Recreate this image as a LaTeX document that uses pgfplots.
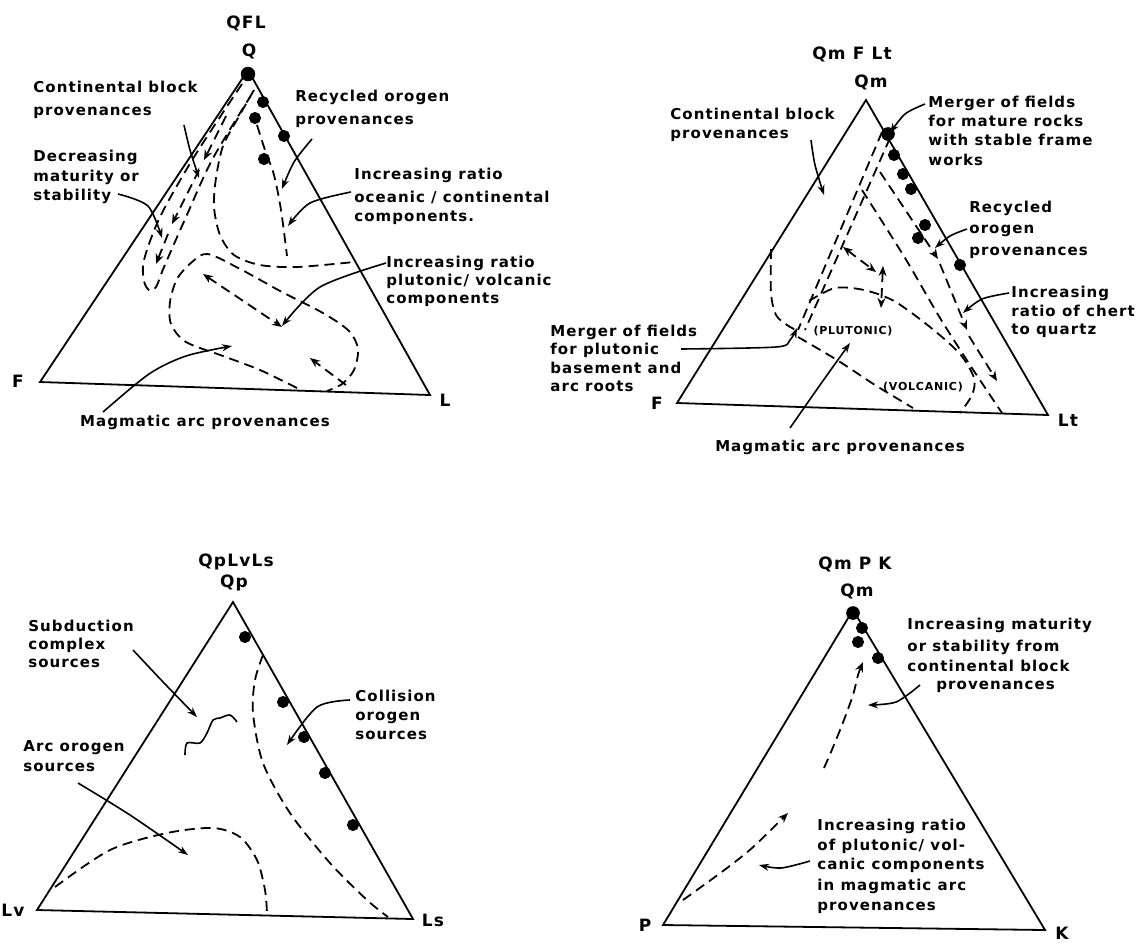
\documentclass[border=0pt]{standalone}
\usepackage{fontspec}
\setmainfont{DejaVu Sans}[LetterSpace=7]
\usepackage{pgfplots}
\pgfplotsset{compat=1.18}
\usetikzlibrary{arrows.meta}

% one text line, left aligned at (x,y) in image pixels
\newcommand{\T}[3]{\node[anchor=west] at (axis cs:#1,#2) {#3};}
% centred text
\newcommand{\C}[3]{\node at (axis cs:#1,#2) {#3};}

\begin{document}
\begin{tikzpicture}[
  every node/.style={font=\bfseries\fontsize{7.5}{10}\selectfont, inner sep=0pt, text height=5.6pt, text depth=1.6pt},
  ttl/.style={font=\bfseries\fontsize{8.5}{10}\selectfont},
]
\begin{axis}[
  x=0.5pt, y=0.5pt, y dir=reverse,
  xmin=0, xmax=1145, ymin=0, ymax=944,
  hide axis, clip=false, scale only axis,
  tri/.style={black, line width=0.9pt, no marks},
  dsh/.style={black, line width=0.9pt, dash pattern=on 5pt off 3pt, no marks, smooth},
  ldr/.style={black, line width=0.8pt, no marks, smooth, -{Stealth[length=5pt,width=3.5pt]}},
  dot/.style={black, only marks, mark=*, mark size=2.8pt},
  ah/.style={-{Stealth[length=5pt,width=4pt]}},
  dah/.style={{Stealth[length=5pt,width=4pt]}-{Stealth[length=5pt,width=4pt]}},
]
\addplot[draw=none, forget plot] coordinates {(0,0) (1145,944)};

% ---------------- QFL ----------------
\addplot[tri] coordinates {(248,70) (40,382) (430,395)} -- cycle;
\addplot[dot] coordinates {(263,102) (255,118) (284,136) (264,159)};
\addplot[dot, mark size=3.4pt] coordinates {(248,74)};
\addplot[dsh] coordinates {(242,84) (194,157) (160,217) (144,260) (144,281) (149,290) (156,287) (164,267) (186,217) (212,160) (250,97)};
\addplot[dsh, ah] coordinates {(226,116) (204,160)};
\addplot[dsh, ah] coordinates {(199,170) (172,224)};
\addplot[dsh, ah] coordinates {(168,234) (156,264)};
\addplot[dsh] coordinates {(254,90) (238,118) (223,146) (216,178) (214,207) (220,235) (234,255) (260,265) (297,267) (354,262)};
\addplot[dsh] coordinates {(257,125) (265,150) (274,175) (281,210) (287,256)};
\addplot[dsh] coordinates {(297,388) (260,370) (223,356) (186,342) (171,324) (170,302) (177,279) (192,262) (208,254) (242,270) (282,292) (323,313) (349,331) (358,349) (354,370) (342,384) (327,391)};
\addplot[dsh, dah] coordinates {(203,274) (282,327)};
\addplot[dsh, ah] coordinates {(346,385) (310,358)};
\addplot[ldr] coordinates {(184,125) (190,150) (199,178)};
\addplot[ldr] coordinates {(312,139) (294,162) (282,189)};
\addplot[ldr] coordinates {(118,194) (148,206) (162,238)};
\addplot[ldr] coordinates {(351,192) (310,203) (288,226)};
\addplot[ldr] coordinates {(386,263) (320,287) (282,326)};
\addplot[ldr] coordinates {(103,412) (149,374) (186,356) (232,346)};
\node[ttl] at (axis cs:246,24) {QFL};
\node[ttl] at (axis cs:249,52) {Q};
\node[ttl] at (axis cs:18,383) {F};
\node[ttl] at (axis cs:445,402) {L};
\T{33}{88}{Continental block}
\T{33}{111}{provenances}
\T{295}{97}{Recycled orogen}
\T{295}{120}{provenances}
\T{33}{157}{Decreasing}
\T{33}{177}{maturity or}
\T{33}{196}{stability}
\T{354}{175}{Increasing ratio}
\T{354}{198}{oceanic / continental}
\T{354}{217}{components.}
\T{386}{263}{Increasing ratio}
\T{386}{281}{plutonic/ volcanic}
\T{386}{299}{components}
\C{205}{422}{Magmatic arc provenances}

% ---------------- Qm F Lt ----------------
\addplot[tri] coordinates {(866,100) (677,403) (1048,415)} -- cycle;
\addplot[dot] coordinates {(894,155) (903,174) (911,189) (925,225) (918,238) (960,265)};
\addplot[dot, mark size=3.2pt] coordinates {(888,134)};
\addplot[dsh] coordinates {(882,132) (798,330)};
\addplot[dsh] coordinates {(890,138) (805,330)};
\addplot[dsh] coordinates {(771,249) (771,293) (776,315) (787,325) (796,330)};
\addplot[dsh] coordinates {(798,337) (837,360) (875,385) (913,408)};
\addplot[dsh] coordinates {(809,301) (835,288) (864,290) (894,301) (930,327) (960,354) (974,378) (972,395) (960,413)};
\addplot[dsh] coordinates {(862,190) (905,258) (940,318) (970,365) (1002,413)};
\addplot[dsh, ah] coordinates {(880,172) (938,259)};
\addplot[dsh, ah] coordinates {(940,264) (967,330)};
\addplot[dsh, ah] coordinates {(969,336) (997,381)};
\addplot[dsh, dah] coordinates {(843,247) (876,272)};
\addplot[dsh, dah] coordinates {(883,266) (881,308)};
\addplot[ldr] coordinates {(811,140) (815,165) (824,195)};
\addplot[ldr] coordinates {(925,104) (905,114) (890,133)};
\addplot[ldr] coordinates {(967,229) (950,236) (935,248)};
\addplot[ldr] coordinates {(1009,293) (982,299) (963,313)};
\addplot[ldr] coordinates {(681,349) (776,347) (790,340) (797,328)};
\addplot[ldr] coordinates {(790,428) (820,385) (850,343)};
\node[ttl] at (axis cs:852,55) {Qm F Lt};
\node[ttl] at (axis cs:871,83) {Qm};
\node[ttl] at (axis cs:657,405) {F};
\node[ttl] at (axis cs:1068,422) {Lt};
\T{670}{115}{Continental block}
\T{670}{134}{provenances}
\T{928}{103}{Merger of fields}
\T{928}{122}{for mature rocks}
\T{928}{141}{with stable frame}
\T{928}{161}{works}
\T{969}{208}{Recycled}
\T{969}{229}{orogen}
\T{969}{251}{provenances}
\T{1011}{293}{Increasing}
\T{1011}{312}{ratio of chert}
\T{1011}{330}{to quartz}
\T{550}{332}{Merger of fields}
\T{550}{350}{for plutonic}
\T{550}{369}{basement and}
\T{550}{387}{arc roots}
\node[font=\bfseries\fontsize{5.5}{7}\selectfont] at (axis cs:853,330) {(PLUTONIC)};
\node[font=\bfseries\fontsize{5.5}{7}\selectfont] at (axis cs:923,386) {(VOLCANIC)};
\C{840}{447}{Magmatic arc provenances}

% ---------------- Qp Lv Ls ----------------
\addplot[tri] coordinates {(233,602) (37,910) (413,919)} -- cycle;
\addplot[dot] coordinates {(245,637) (283,702) (304,737) (325,773) (353,825)};
\addplot[dsh] coordinates {(263,655) (255,680) (253,713) (263,763) (290,813) (330,863) (367,900) (388,917)};
\addplot[dsh] coordinates {(55,887) (110,850) (167,833) (213,828) (240,837) (257,860) (265,890) (267,913)};
\addplot[black, line width=0.8pt, smooth, no marks] coordinates {(185,755) (187,743) (200,743) (207,733) (213,720) (220,718) (230,715) (237,722)};
\addplot[ldr] coordinates {(133,650) (165,684) (197,717)};
\addplot[ldr] coordinates {(350,700) (317,707) (287,745)};
\addplot[ldr] coordinates {(78,783) (130,815) (188,855)};
\node[ttl] at (axis cs:236,562) {QpLvLs};
\node[ttl] at (axis cs:234,583) {Qp};
\node[ttl, anchor=west] at (axis cs:1,912) {Lv};
\node[ttl] at (axis cs:433,922) {Ls};
\T{28}{627}{Subduction}
\T{28}{645}{complex}
\T{28}{663}{sources}
\T{355}{697}{Collision}
\T{355}{716}{orogen}
\T{355}{735}{sources}
\T{23}{747}{Arc orogen}
\T{23}{767}{sources}

% ---------------- Qm P K ----------------
\addplot[tri] coordinates {(853,610) (663,925) (1045,930)} -- cycle;
\addplot[dot] coordinates {(862,628) (858,642) (878,658)};
\addplot[dot, mark size=3.2pt] coordinates {(853,613)};
\addplot[dsh, ah] coordinates {(824,768) (831,752) (842,725) (853,695) (858,675) (863,662)};
\addplot[dsh, ah] coordinates {(683,900) (723,871) (752,848) (788,813)};
\addplot[ldr] coordinates {(920,685) (896,702) (868,705)};
\addplot[ldr] coordinates {(810,861) (781,868) (759,865)};
\node[ttl] at (axis cs:855,565) {Qm P K};
\node[ttl] at (axis cs:857,592) {Qm};
\node[ttl] at (axis cs:645,927) {P};
\node[ttl] at (axis cs:1062,935) {K};
\T{907}{625}{Increasing maturity}
\T{907}{647}{or stability from}
\T{907}{667}{continental block}
\T{936}{685}{provenances}
\T{817}{826}{Increasing ratio}
\T{817}{846}{of plutonic/ vol-}
\T{817}{865}{canic components}
\T{817}{886}{in magmatic arc}
\T{817}{906}{provenances}
\end{axis}
\end{tikzpicture}
\end{document}
